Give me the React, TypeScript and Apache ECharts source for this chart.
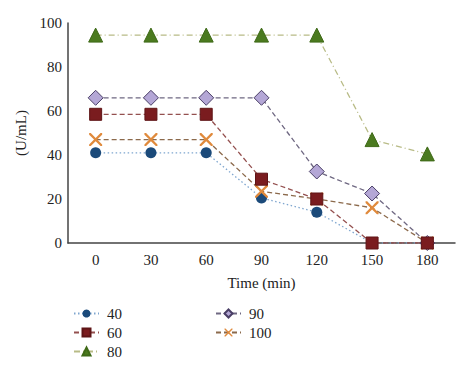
import React, { useEffect, useRef } from "react";
import * as echarts from "echarts";

const categories = ["0", "30", "60", "90", "120", "150", "180"];
const s40 = [41, 41, 41, 20.5, 14, 0, 0];
const s60 = [58.5, 58.5, 58.5, 29, 20, 0, 0];
const s80 = [94.5, 94.5, 94.5, 94.5, 94.5, 47, 40.5];
const s90 = [66, 66, 66, 66, 32.5, 22.5, 0];
const s100 = [47, 47, 47, 23.5, 20, 16, 0];
const yTicks = [0, 20, 40, 60, 80, 100];

const crossPath =
  "path://M0,0 L2.5,0 L10,7.5 L17.5,0 L20,0 L20,2.5 L12.5,10 L20,17.5 L20,20 L17.5,20 L10,12.5 L2.5,20 L0,20 L0,17.5 L7.5,10 L0,2.5 Z";

export default function App() {
  const ref = useRef<HTMLDivElement>(null);
  useEffect(() => {
    if (!ref.current) return;
    const chart = echarts.init(ref.current, null, { renderer: "svg" });
    const font = "Liberation Serif";
    const mk = (
      name: string,
      data: number[],
      symbol: string,
      size: number,
      color: string,
      border: string,
      lineColor: string,
      lineType: any,
      z: number
    ) => ({
      name,
      type: "line",
      data,
      symbol,
      symbolSize: size,
      showAllSymbol: true,
      z,
      itemStyle: { color, borderColor: border, borderWidth: border === "none" ? 0 : 1 },
      lineStyle: { color: lineColor, width: 1.3, type: lineType },
    });
    const legendCommon = {
      orient: "vertical",
      top: 301,
      itemWidth: 25,
      itemHeight: 10,
      itemGap: 4,
      textStyle: { fontFamily: font, fontSize: 15, color: "#222", padding: [0, 0, 0, 3] },
    };
    chart.setOption({
      animation: false,
      textStyle: { fontFamily: font },
      grid: { left: 68, right: 19, top: 23, bottom: 132, containLabel: false },
      xAxis: {
        type: "category",
        data: categories,
        boundaryGap: true,
        name: "Time (min)",
        nameLocation: "middle",
        nameGap: 32,
        nameTextStyle: { fontFamily: font, fontSize: 15, color: "#222" },
        axisLine: { lineStyle: { color: "#444", width: 1.5 } },
        axisTick: { show: false },
        axisLabel: { fontFamily: font, fontSize: 15, color: "#222", margin: 9 },
      },
      yAxis: {
        type: "value",
        min: 0,
        max: 100,
        interval: 20,
        name: "(U/mL)",
        nameLocation: "middle",
        nameGap: 37,
        nameRotate: 90,
        nameTextStyle: { fontFamily: font, fontSize: 15, color: "#222" },
        axisLine: { show: true, lineStyle: { color: "#444", width: 1.5 } },
        axisTick: { show: false },
        splitLine: { show: false },
        axisLabel: {
          fontFamily: font,
          fontSize: 15,
          color: "#222",
          margin: 6,
          formatter: (v: number) => (yTicks.includes(v) ? String(v) : ""),
        },
      },
      legend: [
        { ...legendCommon, data: ["40", "60", "80"], left: 68 },
        { ...legendCommon, data: ["90", "100"], left: 210 },
      ],
      series: [
        mk("80", s80, "triangle", 14, "#4b7a1f", "#3f6a18", "#b8bb86", [6, 3, 1, 3], 2),
        mk("90", s90, "diamond", 15, "#b4a7d6", "#4a3f66", "#6f6882", [5, 3], 3),
        mk("40", s40, "circle", 11, "#1b4a7a", "none", "#7fa6cf", [1.5, 2.5], 4),
        mk("100", s100, crossPath, 13, "#e08a3c", "none", "#8c6a4c", [5, 3], 5),
        mk("60", s60, "rect", 12, "#7a1c1f", "#5e1416", "#94504f", [5, 3], 6),
      ],
    });
    return () => chart.dispose();
  }, []);
  return <div ref={ref} style={{ width: 474, height: 375, position: "absolute", left: 0, top: 0 }} />;
}
